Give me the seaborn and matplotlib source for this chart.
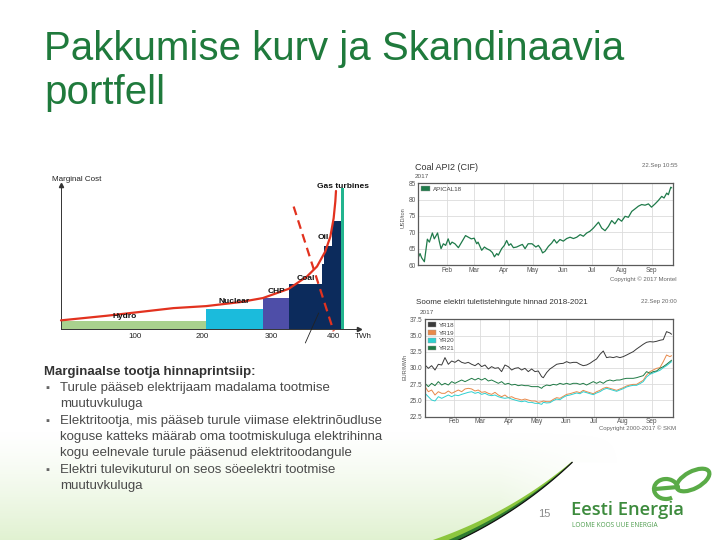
import numpy as np
import pandas as pd
import matplotlib
matplotlib.use("Agg")
import matplotlib.pyplot as plt
import seaborn as sns
from matplotlib.patches import Patch, Polygon, Arc, Ellipse

# ---------------- data ----------------
title_lines = ["Pakkumise kurv ja Skandinaavia", "portfell"]

# merit order (schematic units: TWh along x, marginal cost 0-100 along y)
mo_sources = ["Hydro", "Nuclear", "CHP", "Coal", "Oil 1", "Oil 2", "Oil 3", "Gas turbines"]
mo_start = [0, 199, 277, 312, 357, 360, 371, 383]
mo_width = [199, 78, 35, 45, 3, 11, 12, 4]
mo_cost = [5.3, 14.1, 21.5, 31.2, 45.3, 57.3, 75.0, 97.7]
mo_colors = ["#a9d18e", "#1bbbdc", "#4e4ea8", "#0c2b5c", "#0c2b5c", "#0c2b5c", "#0c2b5c", "#22b48e"]
supply_x = [0, 62.6, 154, 199, 245.6, 276.7, 312, 337, 350.7, 362, 369, 373.5, 375.8, 376.7]
supply_y = [6, 9.2, 14.5, 15.9, 18.7, 21.5, 27.9, 36.5, 43.4, 53.8, 64.2, 76.9, 88.5, 95.8]
demand_x = [318.7, 373.5]
demand_y = [85, -1.6]
pointer_x = [334.7, 353]
pointer_y = [-9.7, 11.1]
mo_tick_pos = [101, 194, 288, 373]
mo_tick_labels = ["100", "200", "300", "400"]
mo_labels = ["Gas turbines", "Oil", "Coal", "CHP", "Nuclear", "Hydro"]
mo_label_x = [350.7, 352, 323, 283.6, 216, 71]
mo_label_y = [98.6, 63.2, 35.4, 25.7, 19.4, 9]

# Coal API2 (CIF) 2017, day of year -> USD/ton
coal_day = [1, 2.8, 4.5, 7.3, 10.4, 12.5, 15.6, 17.6, 21, 22.8, 24.6, 27, 29.4, 32, 34, 36, 39, 42.6,
            46, 50, 53, 56, 59, 61.6, 63, 66.8, 69.6, 72, 75.4, 77.9, 80, 82.4, 84, 87.5, 90.3, 92.7,
            95, 97, 99.7, 103, 106.6, 109, 111.8, 115, 119, 123, 125.6, 128, 130, 132.5, 136, 139.4,
            142, 144.6, 148, 151.5, 155, 158.5, 162, 165.4, 169, 172.3, 175.8, 179, 182.7, 188, 191.3,
            194.8, 198.3, 201.7, 205, 208.6, 212, 215.6, 219, 222.5, 226, 229.4, 232.8, 236.3, 239.8,
            243, 246.7, 250, 253.6, 256, 258.8, 260.5, 263, 264]
coal_price = [62.3, 63.5, 62.2, 61.0, 67.9, 67.0, 69.8, 68.0, 69.8, 67.2, 65.0, 66.5, 66.0, 68.0, 66.2,
              67.0, 66.5, 65.3, 67.0, 69.0, 68.5, 68.0, 68.2, 66.5, 67.0, 64.5, 65.5, 65.0, 64.5, 63.8,
              62.5, 63.5, 63.0, 65.0, 66.0, 67.5, 66.0, 66.5, 65.3, 65.5, 66.0, 66.3, 65.0, 66.5, 66.5,
              65.5, 66.0, 65.0, 63.7, 64.2, 65.7, 66.7, 67.8, 66.7, 67.8, 67.3, 68.1, 68.5, 68.1, 68.5,
              69.3, 68.8, 69.8, 70.3, 71.3, 73.1, 71.3, 70.5, 71.8, 73.6, 72.6, 74.2, 73.4, 74.9, 74.6,
              76.4, 77.2, 78.0, 78.5, 78.3, 78.7, 77.7, 78.7, 79.7, 81.0, 80.5, 82.0, 81.5, 83.8, 83.6]
coal_series = "APICAL18"

# Finnish electricity futures 2018-2021, day of year 2017 -> EUR/MWh
fi_day = [0, 3.6, 7.1, 10.7, 14.3, 17.9, 21.4, 25.0, 28.6, 32.1, 35.7, 39.3, 42.9, 46.4, 50.0, 53.6,
          57.1, 60.7, 64.3, 67.9, 71.4, 75.0, 78.6, 82.1, 85.7, 89.3, 92.9, 96.4, 100.0, 103.6, 107.1,
          110.7, 114.3, 117.9, 121.4, 125.0, 126.8, 130.4, 133.9, 137.5, 141.1, 144.6, 148.2, 151.8,
          155.4, 158.9, 162.5, 166.1, 169.6, 173.2, 176.8, 180.4, 183.9, 187.5, 191.1, 194.6, 198.2,
          201.8, 205.4, 208.9, 212.5, 216.1, 219.6, 223.2, 226.8, 230.4, 233.9, 237.5, 241.1, 244.6,
          248.2, 251.8, 255.4, 258.9, 262.5, 264.3]
yr18 = [30.46, 29.95, 30.36, 29.69, 30.57, 30.46, 31.6, 30.57, 31.08, 30.87, 31.23, 30.87, 30.72, 30.87,
        30.57, 30.36, 30.72, 30.21, 30.46, 29.85, 30.21, 29.95, 30.05, 29.44, 30.46, 30.21, 29.69, 29.95,
        30.05, 29.69, 29.95, 29.44, 29.85, 29.44, 29.54, 28.67,
        28.5, 29.3, 29.85, 30.2, 30.57, 30.67, 30.72, 30.98, 30.77, 30.87, 30.87, 30.57, 30.36, 30.46,
        30.72, 31.08, 31.39, 32.1, 32.62, 31.6, 31.7, 31.6, 31.75, 31.6, 31.75, 32.0, 32.26, 32.52,
        32.93, 33.29, 33.65, 33.96, 34.06, 34.01, 34.11, 34.27, 34.37, 35.6, 35.4, 35.2]
yr19 = [27.13, 26.35, 26.61, 25.84, 26.35, 26.1, 26.1, 26.46, 26.1, 26.35, 26.61, 26.35, 26.77, 26.87,
        26.77, 26.46, 26.61, 26.25, 26.35, 26.1, 25.94, 26.25, 25.84, 25.58, 25.84, 25.43, 25.58, 25.33,
        25.22, 25.07, 25.22, 25.07, 24.92, 24.92, 24.71, 24.81,
        24.92, 24.81, 24.81, 25.17, 25.43, 25.33, 25.63, 25.94, 26.04, 26.2, 26.35, 26.2, 26.56, 26.35,
        26.2, 26.04, 26.35, 26.56, 26.87, 27.03, 26.87, 26.72, 26.56, 26.77, 26.97, 27.23, 27.38, 27.48,
        27.48, 27.8, 28.1, 28.92, 29.44, 29.69, 29.95, 30.05, 30.98, 32.0, 31.75, 31.9]
yr20 = [26.1, 25.58, 25.07, 24.92, 25.58, 25.33, 25.58, 25.84, 25.58, 25.84, 25.74, 25.94, 26.1, 26.25,
        26.35, 26.1, 26.25, 25.94, 26.1, 25.84, 25.74, 25.84, 25.58, 25.43, 25.33, 25.43, 25.22, 25.07,
        24.92, 24.81, 24.92, 24.71, 24.71, 24.56, 24.56, 24.4,
        24.71, 24.61, 24.66, 24.97, 25.22, 25.12, 25.48, 25.74, 25.84, 25.99, 26.15, 26.04, 26.35, 26.2,
        26.04, 25.89, 26.15, 26.35, 26.67, 26.87, 26.72, 26.56, 26.41, 26.61, 26.82, 27.08, 27.23, 27.33,
        27.33, 27.59, 27.9, 28.62, 29.03, 29.23, 29.44, 29.64, 30.05, 30.36, 30.77, 30.98]
yr21 = [27.64, 27.13, 27.64, 27.28, 27.9, 27.38, 27.64, 27.38, 27.9, 27.64, 27.9, 28.15, 27.9, 28.15,
        28.41, 28.15, 28.41, 28.15, 28.41, 28.0, 28.15, 27.9, 27.64, 27.9, 27.48, 27.64, 27.38, 27.48,
        27.28, 27.38, 27.28, 27.28, 27.13, 27.13, 27.13, 26.87,
        27.13, 27.38, 27.28, 27.48, 27.38, 27.64, 27.48, 27.64, 27.48, 27.64, 27.64, 27.48, 27.64, 27.38,
        27.64, 27.9, 27.64, 27.9, 27.64, 28.0, 28.15, 28.0, 28.15, 28.15, 28.31, 28.41, 28.41, 28.41,
        28.51, 28.67, 28.82, 29.44, 29.18, 29.44, 29.54, 29.95, 30.21, 30.57, 30.98, 31.2]
fi_series = ["YR18", "YR19", "YR20", "YR21"]
fi_colors = ["#3a3a3a", "#e8894a", "#2fd0d0", "#1f7a45"]

month_starts = ["2017-02-01", "2017-03-01", "2017-04-01", "2017-05-01",
                "2017-06-01", "2017-07-01", "2017-08-01", "2017-09-01"]
month_labels = ["Feb", "Mar", "Apr", "May", "Jun", "Jul", "Aug", "Sep"]
coal_yticks = [60, 65, 70, 75, 80, 85]
fi_yticks = [22.5, 25.0, 27.5, 30.0, 32.5, 35.0, 37.5]

bullet_heading = "Marginaalse tootja hinnaprintsiip:"
bullet_items = [
    ["Turule pääseb elektrijaam madalama tootmise", "muutuvkuluga"],
    ["Elektritootja, mis pääseb turule viimase elektrinõudluse",
     "koguse katteks määrab oma tootmiskuluga elektrihinna",
     "kogu eelnevale turule pääsenud elektritoodangule"],
    ["Elektri tulevikuturul on seos söeelektri tootmise", "muutuvkuluga"],
]

# ---------------- style ----------------
sns.set_theme(style="white")
plt.rcParams["font.family"] = ["Liberation Sans", "DejaVu Sans"]

W, H = 720, 540
fig = plt.figure(figsize=(W / 100, H / 100), dpi=100)
fig.patch.set_facecolor("white")


def box(l, t, r, b):
    return [l / W, 1 - b / H, (r - l) / W, (b - t) / H]


def fx(x):
    return x / W


def fy(y):
    return 1 - y / H


GREEN = "#1f7a3c"

# ---------------- background decoration ----------------
bg = fig.add_axes([0, 0, 1, 1], zorder=0)
yy, xx = np.mgrid[0:H, 0:W]
alpha = np.clip((yy - 430) / 110.0, 0, 1) ** 1.3 * np.clip((620 - xx) / 120.0, 0, 1) * 0.75
img = np.zeros((H, W, 4))
img[..., 0], img[..., 1], img[..., 2] = 0.84, 0.93, 0.76
img[..., 3] = alpha
bg.imshow(img, extent=(0, W, H, 0), aspect="auto", interpolation="bilinear")
bg.set_xlim(0, W)
bg.set_ylim(H, 0)
bg.axis("off")

t = np.linspace(0, 1, 80)
P0, P1, P2 = np.array([415.0, 552.0]), np.array([505.0, 522.0]), np.array([572.0, 462.0])
c = ((1 - t) ** 2)[:, None] * P0 + (2 * (1 - t) * t)[:, None] * P1 + (t ** 2)[:, None] * P2
d = np.gradient(c, axis=0)
nrm = np.stack([-d[:, 1], d[:, 0]], 1)
nrm /= np.linalg.norm(nrm, axis=1)[:, None]
w = 11 * (1 - t) + 0.8
upper = c - nrm * w[:, None] / 2
lower = c + nrm * w[:, None] / 2
mid = c + nrm * w[:, None] * 0.05
white = np.vstack([lower, [[720, 462], [720, 552], [415, 552]]])
bg.add_patch(Polygon(white, closed=True, color="white", lw=0, zorder=2))
bg.add_patch(Polygon(np.vstack([upper, lower[::-1]]), closed=True, color="#8cc63e", lw=0, zorder=3))
bg.add_patch(Polygon(np.vstack([mid, lower[::-1]]), closed=True, color="#2e7a30", lw=0, zorder=4))
bg.plot(lower[:, 0], lower[:, 1], color="#111111", lw=0.9, zorder=5)

logo_c = "#5aab47"
bg.add_patch(Arc((666, 489), 24, 20, angle=0, theta1=55, theta2=360, lw=3.0, color=logo_c, zorder=6))
bg.plot([655, 678], [489, 487], color=logo_c, lw=3.0, solid_capstyle="round", zorder=6)
bg.add_patch(Ellipse((693, 480), 36, 17, angle=-28, fill=False, lw=3.0, color=logo_c, zorder=6))

# ---------------- texts on slide ----------------
fig.text(fx(44), fy(60), title_lines[0], fontsize=29, color=GREEN, va="baseline", ha="left")
fig.text(fx(44), fy(104), title_lines[1], fontsize=29, color=GREEN, va="baseline", ha="left")

fig.text(fx(44), fy(375), bullet_heading, fontsize=9.5, fontweight="bold", color="#333333", va="baseline")
line_y = 391
for item in bullet_items:
    for i, line in enumerate(item):
        if i == 0:
            fig.text(fx(45), fy(line_y), "\u25aa", fontsize=8, color="#666666", va="baseline")
        fig.text(fx(60), fy(line_y), line, fontsize=9.5, color="#4a4a4a", va="baseline")
        line_y += 16.3

fig.text(fx(544), fy(514), "15", fontsize=8, color="#8a8a8a", ha="center", va="center")
fig.text(fx(571), fy(515), "Eesti Energia", fontsize=13.2, color="#3d8b3d", fontweight="semibold",
         family=["Open Sans", "DejaVu Sans"], va="baseline")
fig.text(fx(572), fy(527), "LOOME KOOS UUE ENERGIA", fontsize=4.7, color="#4f9e4f",
         family=["Open Sans", "DejaVu Sans"], va="baseline")

# ---------------- merit order chart ----------------
axm = fig.add_axes(box(50, 175, 380, 345), zorder=1)
axm.set_facecolor("none")
axm.bar(mo_start, mo_cost, width=mo_width, align="edge", color=mo_colors, lw=0, zorder=2)
sns.lineplot(x=supply_x, y=supply_y, ax=axm, color="#e2321f", lw=1.6, sort=False, zorder=4)
axm.plot(demand_x, demand_y, ls=(0, (4, 2.5)), color="#e2321f", lw=1.6, zorder=3)
axm.plot(pointer_x, pointer_y, color="#222222", lw=0.6, clip_on=False, zorder=5)
axm.set_xlim(-15.07, 437)
axm.set_ylim(-11.1, 106.9)
for s in ["top", "right"]:
    axm.spines[s].set_visible(False)
axm.spines["left"].set_position(("data", 0))
axm.spines["left"].set_bounds(0, 100)
axm.spines["bottom"].set_position(("data", 0))
axm.spines["bottom"].set_bounds(0, 408)
for s in ["left", "bottom"]:
    axm.spines[s].set_color("#333333")
    axm.spines[s].set_linewidth(0.7)
axm.plot([408], [0], marker=">", ms=3, color="#333333", clip_on=False)
axm.plot([0], [100], marker="^", ms=3, color="#333333", clip_on=False)
axm.set_xticks(mo_tick_pos, mo_tick_labels)
axm.set_yticks([])
axm.tick_params(axis="x", length=0, pad=3, labelsize=5.8, labelcolor="#222222")
axm.text(403, -5.2, "TWh", fontsize=5.8, color="#222222", ha="left", va="center")
axm.text(-12.3, 103.5, "Marginal Cost", fontsize=5.8, color="#222222", ha="left", va="center")
for lab, lx, ly in zip(mo_labels, mo_label_x, mo_label_y):
    axm.text(lx, ly, lab, fontsize=6, fontweight="bold", color="#111111", ha="left", va="center", zorder=6)

# ---------------- coal chart ----------------
start = pd.Timestamp("2017-01-01")
df_coal = pd.DataFrame({"date": start + pd.to_timedelta(coal_day, unit="D"), "price": coal_price})
axc = fig.add_axes(box(418.3, 183.3, 672.7, 265), zorder=1)
sns.lineplot(data=df_coal, x="date", y="price", ax=axc, color="#1f7a4a", lw=0.9)
axc.set_xlim(pd.Timestamp("2017-01-02"), pd.Timestamp("2017-09-23"))
axc.set_ylim(60, 85)

df_fi = pd.DataFrame({
    "date": np.tile(start + pd.to_timedelta(fi_day, unit="D"), 4),
    "price": yr18 + yr19 + yr20 + yr21,
    "contract": np.repeat(fi_series, len(fi_day)),
})
axf = fig.add_axes(box(425, 319.3, 672.7, 416.7), zorder=1)
sns.lineplot(data=df_fi, x="date", y="price", hue="contract", ax=axf,
             palette=dict(zip(fi_series, fi_colors)), lw=0.7, legend=False)
axf.set_xlim(pd.Timestamp("2017-01-01"), pd.Timestamp("2017-09-23 12:00"))
axf.set_ylim(22.5, 37.5)

for ax, yt, fmt in [(axc, coal_yticks, "{:.0f}"), (axf, fi_yticks, "{:.1f}")]:
    ax.set_facecolor("white")
    ax.set_xticks(pd.to_datetime(month_starts))
    ax.set_xticklabels(month_labels)
    ax.set_yticks(yt)
    ax.set_yticklabels([fmt.format(v) for v in yt])
    ax.set_xlabel("")
    ax.set_ylabel("")
    ax.grid(True, color="#dcdcdc", lw=0.6)
    ax.set_axisbelow(True)
    ax.tick_params(length=0, pad=2, labelsize=4.7, labelcolor="#555555")
    ax.tick_params(axis="x", pad=1.2)
    for s in ax.spines.values():
        s.set_color("#5a5a5a")
        s.set_linewidth(0.9)

axc.legend(handles=[Patch(facecolor="#1f7a4a", edgecolor="#999999", lw=0.3)], labels=[coal_series],
           loc="upper left", frameon=False, fontsize=4.5, handlelength=1.3, handleheight=0.8,
           handletextpad=0.5, borderaxespad=0.2, borderpad=0.3, labelcolor="#444444")
axf.legend(handles=[Patch(facecolor=cl, edgecolor="#999999", lw=0.3) for cl in fi_colors], labels=fi_series,
           loc="upper left", frameon=False, fontsize=4.5, handlelength=1.3, handleheight=0.8,
           handletextpad=0.5, labelspacing=0.35, borderaxespad=0.2, borderpad=0.3, labelcolor="#444444")

fig.text(fx(415), fy(167), "Coal API2 (CIF)", fontsize=6.5, color="#333333", va="center")
fig.text(fx(415), fy(176.5), "2017", fontsize=4.6, color="#555555", va="center")
fig.text(fx(677), fy(166), "22.Sep 10:55", fontsize=4.3, color="#666666", va="center", ha="right")
fig.text(fx(403), fy(218), "USD/ton", fontsize=4, color="#555555", va="center", ha="center", rotation=90)
fig.text(fx(677), fy(279.5), "Copyright \u00a9 2017 Montel", fontsize=4.3, color="#666666", va="center",
         ha="right")

fig.text(fx(416), fy(303), "Soome elektri tuletistehingute hinnad 2018-2021", fontsize=5.8,
         color="#333333", va="center")
fig.text(fx(420), fy(312.5), "2017", fontsize=4.6, color="#555555", va="center")
fig.text(fx(677), fy(302), "22.Sep 20:00", fontsize=4.3, color="#666666", va="center", ha="right")
fig.text(fx(405), fy(367), "EUR/MWh", fontsize=4, color="#555555", va="center", ha="center", rotation=90)
fig.text(fx(676), fy(428.5), "Copyright 2000-2017 \u00a9 SKM", fontsize=4.3, color="#666666", va="center",
         ha="right")

fig.savefig("out.png", dpi=100)
